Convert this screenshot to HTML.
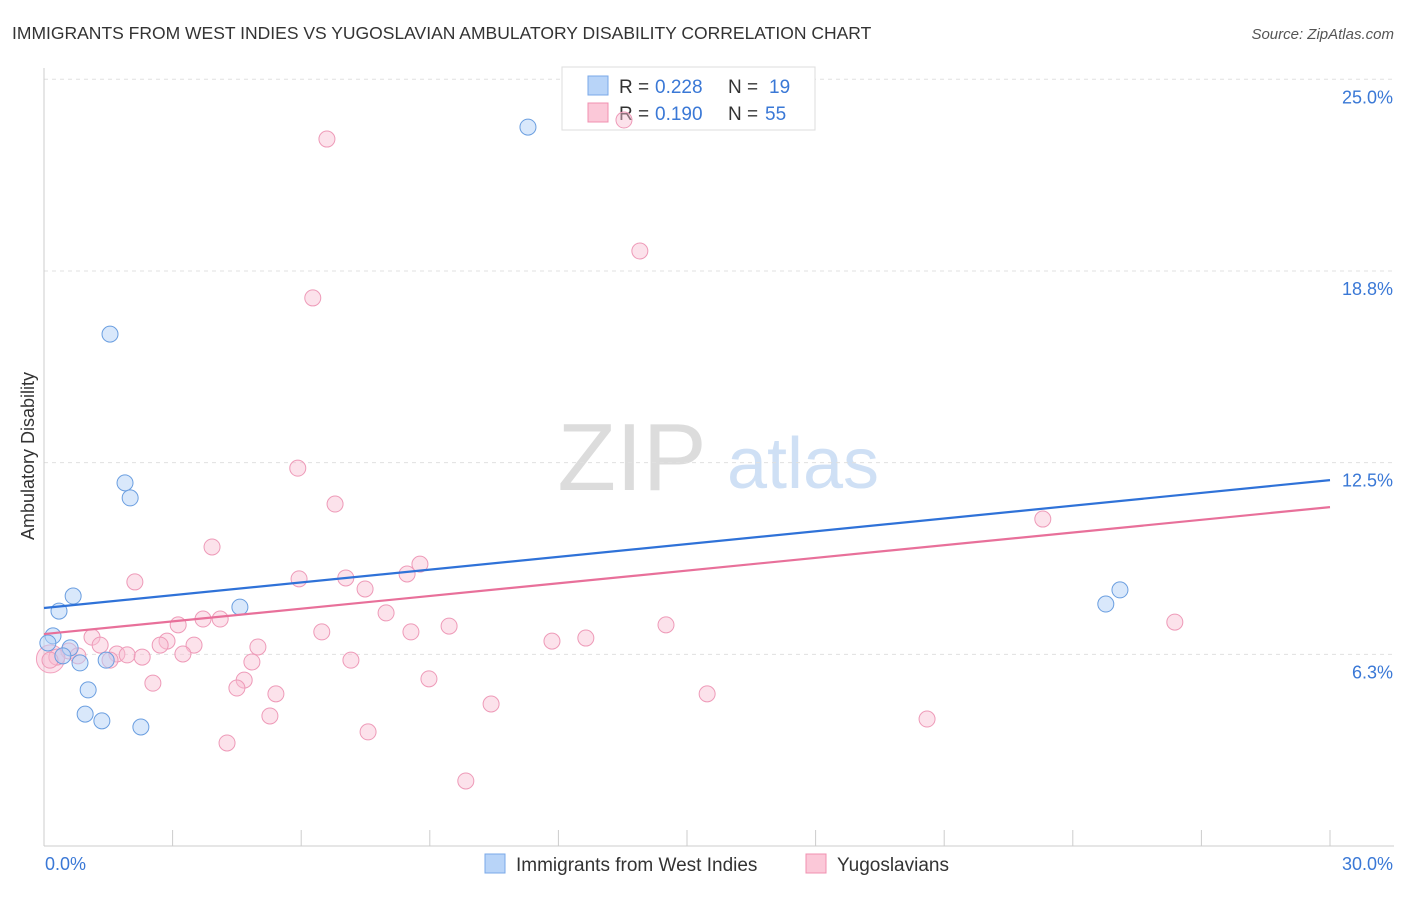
<!DOCTYPE html>
<html><head><meta charset="utf-8"><style>
body{margin:0;background:#fff;font-family:"Liberation Sans",sans-serif}
svg text{font-family:"Liberation Sans",sans-serif}
</style></head><body>
<svg id="chart" width="1406" height="892" xmlns="http://www.w3.org/2000/svg">
<text x="12" y="39" font-size="17.5" fill="#333">IMMIGRANTS FROM WEST INDIES VS YUGOSLAVIAN AMBULATORY DISABILITY CORRELATION CHART</text>
<text x="1394" y="39" font-size="15" fill="#555" text-anchor="end" font-style="italic">Source: ZipAtlas.com</text>
<g>
<text x="632" y="490" font-size="96" fill="#dcdcdc" text-anchor="middle" font-family="Liberation Serif,serif">ZIP</text>
<text x="803" y="488" font-size="72" fill="#cfe0f5" text-anchor="middle">atlas</text>
</g>
<g id="grid"></g><g id="axes"></g>
<g>
<rect x="562" y="67" width="253" height="63" fill="#fff" stroke="#ddd"/>
<rect x="588" y="76" width="20" height="19" fill="#b8d4f8" stroke="#7aa8e8"/>
<rect x="588" y="103" width="20" height="19" fill="#fbc8d8" stroke="#f090b0"/>
<text x="619" y="93" font-size="19" fill="#333">R =</text>
<text x="655" y="93" font-size="19" fill="#3a78d6">0.228</text>
<text x="728" y="93" font-size="19" fill="#333">N =</text>
<text x="769" y="93" font-size="19" fill="#3a78d6">19</text>
<text x="619" y="120" font-size="19" fill="#333">R =</text>
<text x="655" y="120" font-size="19" fill="#3a78d6">0.190</text>
<text x="728" y="120" font-size="19" fill="#333">N =</text>
<text x="765" y="120" font-size="19" fill="#3a78d6">55</text>
</g>
<g id="marks"></g>
<g>
<rect x="485" y="854" width="20" height="19" fill="#b8d4f8" stroke="#7aa8e8"/>
<text x="516" y="871" font-size="19" fill="#333">Immigrants from West Indies</text>
<rect x="806" y="854" width="20" height="19" fill="#fbc8d8" stroke="#f090b0"/>
<text x="837" y="871" font-size="19" fill="#333">Yugoslavians</text>
</g>
<text transform="translate(34,456) rotate(-90)" font-size="18" fill="#333" text-anchor="middle">Ambulatory Disability</text>
</svg>
<script>
const yTicks=[6.25,12.5,18.75,25];
const yTickLabels=["6.3%","12.5%","18.8%","25.0%"];
const xTicks=[0,3,6,9,12,15,18,21,24,27,30];
const blueX=[11.29,1.54,1.89,2.01,0.68,0.35,4.57,0.21,0.09,0.61,0.44,0.84,1.45,1.03,0.96,1.35,2.26,24.77,25.10];
const blueY=[23.44,16.69,11.84,11.35,8.15,7.66,7.79,6.85,6.62,6.46,6.20,5.97,6.06,5.09,4.30,4.08,3.88,7.89,8.35];
const pinkX=[6.60,13.53,13.90,6.27,5.92,6.79,3.92,2.12,5.95,7.04,8.47,8.77,7.49,7.98,3.13,3.71,4.11,2.87,2.71,3.50,1.12,1.31,0.58,0.79,1.70,1.94,2.29,1.54,0.30,0.14,3.24,4.99,6.48,8.56,9.45,11.85,12.64,14.51,23.30,26.38,4.85,7.16,2.54,4.67,4.50,5.41,8.98,15.47,5.27,10.43,7.56,4.27,20.60,9.84];
const pinkY=[23.05,23.67,19.40,17.87,12.32,11.15,9.75,8.61,8.71,8.74,8.87,9.19,8.38,7.60,7.21,7.40,7.40,6.68,6.55,6.55,6.81,6.55,6.36,6.20,6.26,6.23,6.16,6.06,6.16,6.06,6.26,6.49,6.98,6.98,7.17,6.68,6.78,7.21,10.66,7.30,6.00,6.06,5.31,5.41,5.15,4.96,5.45,4.96,4.24,4.63,3.72,3.36,4.14,2.12];
const blueTrend=[7.76,11.93];
const pinkTrend=[6.91,11.05];
const NS="http://www.w3.org/2000/svg";
const sx=v=>44+v*(1286/30);
const sy=v=>846-v*30.67;
function mk(tag,attrs,parent){const e=document.createElementNS(NS,tag);for(const k in attrs)e.setAttribute(k,attrs[k]);document.getElementById(parent).appendChild(e);return e;}
yTicks.forEach((t,i)=>{
 const l=mk('line',{x1:44,x2:1394,y1:sy(t),y2:sy(t),stroke:'#e0e0e0','stroke-dasharray':'4,4'},'grid');
 
 
 const tx=mk('text',{x:1393,y:sy(t)+24,'font-size':18,fill:'#3a78d6','text-anchor':'end'},'axes');
 tx.textContent=yTickLabels[i];
 
 
});
const ya=mk('line',{x1:44,x2:44,y1:68,y2:846,stroke:'#ccc'},'axes');


const xa=mk('line',{x1:44,x2:1394,y1:846,y2:846,stroke:'#ccc'},'axes');


xTicks.forEach(t=>{const l=mk('line',{x1:sx(t),x2:sx(t),y1:830,y2:846,stroke:'#ccc'},'axes');
 
 });
const x0=mk('text',{x:45,y:870,'font-size':18,fill:'#3a78d6'},'axes');x0.textContent="0.0%";


const x1=mk('text',{x:1393,y:870,'font-size':18,fill:'#3a78d6','text-anchor':'end'},'axes');x1.textContent="30.0%";


const big=mk('circle',{cx:sx(0.15),cy:sy(6.1),r:14,fill:'rgba(248,180,205,0.4)',stroke:'#f2a0bd'},'marks');


pinkX.forEach((v,i)=>{const c=mk('circle',{cx:sx(v),cy:sy(pinkY[i]),r:8,fill:'rgba(248,190,210,0.45)',stroke:'#ee9ab8','stroke-width':1},'marks');
 
 });
blueX.forEach((v,i)=>{const c=mk('circle',{cx:sx(v),cy:sy(blueY[i]),r:8,fill:'rgba(180,210,248,0.5)',stroke:'#6a9ee0','stroke-width':1},'marks');
 
 });
const bl=mk('line',{x1:sx(0),y1:sy(blueTrend[0]),x2:sx(30),y2:sy(blueTrend[1]),stroke:'#2f72d8','stroke-width':2.2},'marks');


const pl=mk('line',{x1:sx(0),y1:sy(pinkTrend[0]),x2:sx(30),y2:sy(pinkTrend[1]),stroke:'#e8709a','stroke-width':2.2},'marks');


</script>
</body></html>
